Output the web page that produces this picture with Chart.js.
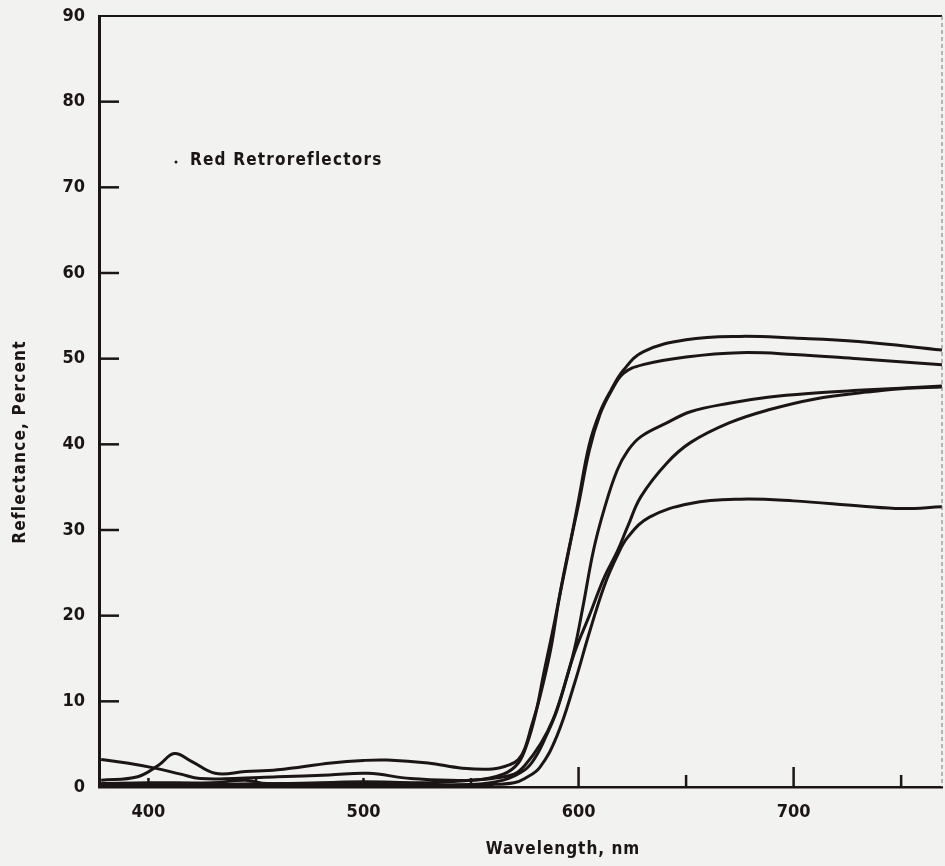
<!DOCTYPE html>
<html lang="en">
<head>
    <meta charset="UTF-8">
    <title>Red Retroreflectors</title>
    <script src="https://cdn.jsdelivr.net/npm/chart.js"></script>
    <style>
        body { margin: 0; background: #f2f2f0; }
        #box { width: 945px; height: 866px; }
    </style>
</head>
<body>
    <div id="box"><canvas id="grafico"></canvas></div>
<script>
    // wavelength (nm) and reflectance (%), one pair per curve
    const wlA = [378, 395, 405, 412, 420, 431, 445, 460, 485, 500, 511, 530, 546, 560, 568, 572, 575, 578, 582, 587, 591, 595, 600, 605, 610, 615, 621, 630, 650, 675, 700, 730, 769];
    const refA = [0.8, 1.2, 2.6, 3.9, 3.0, 1.6, 1.8, 2.0, 2.8, 3.1, 3.15, 2.8, 2.2, 2.1, 2.6, 3.2, 4.5, 7, 10.5, 16, 22, 27, 33.5, 40, 43.8, 46.3, 48.7, 50.8, 52.2, 52.6, 52.4, 52.0, 51.0];

    const wlB = [378, 390, 403, 415, 424, 440, 460, 484, 502, 522, 551, 565, 572, 576, 580, 584, 589, 594, 600, 605, 610, 615, 621, 630, 650, 675, 700, 730, 769];
    const refB = [3.2, 2.8, 2.2, 1.5, 1.0, 1.0, 1.2, 1.4, 1.6, 1.0, 0.8, 1.5, 2.8, 5, 8.5, 13.5, 19.5, 26, 33, 39.3, 43.5, 46.1, 48.3, 49.3, 50.2, 50.7, 50.5, 50.0, 49.3];

    const wlC = [378, 400, 430, 445, 455, 480, 500, 530, 550, 560, 570, 575, 582.5, 588, 593, 598, 602, 607, 612, 618, 623, 629, 641, 652, 670, 688, 710, 730, 769];
    const refC = [0.4, 0.5, 0.5, 0.8, 0.4, 0.5, 0.6, 0.5, 0.8, 1.0, 1.5, 2.5, 5.1, 7.8, 11.5, 16, 21, 27.7, 32.5, 37, 39.3, 40.9, 42.5, 43.8, 44.8, 45.5, 46.0, 46.3, 46.8];

    const wlD = [378, 420, 470, 520, 550, 565, 575, 580, 585, 590, 598, 605, 612, 618, 623, 629, 641, 652, 670, 688, 710, 734, 750, 769];
    const refD = [0.3, 0.3, 0.4, 0.3, 0.3, 0.8, 2.0, 3.5, 6, 9, 15.6, 20, 24.5, 27.5, 30.5, 33.9, 37.8, 40.2, 42.5, 44, 45.3, 46.1, 46.5, 46.7];

    const wlE = [378, 420, 470, 520, 560, 570, 575, 582, 590, 598, 605, 612, 618, 623, 633, 652, 675, 700, 731, 750, 769];
    const refE = [0.2, 0.2, 0.3, 0.2, 0.3, 0.5, 1.0, 2.3, 6, 12, 18, 23.5, 27, 29.2, 31.5, 33.1, 33.6, 33.4, 32.8, 32.5, 32.7];

    const xTicks = [400, 500, 600, 700];
    const xMarks = [400, 450, 500, 550, 600, 650, 700, 750];
    const yTicks = [0, 10, 20, 30, 40, 50, 60, 70, 80, 90];

    const familia = '"DejaVu Sans Condensed", "DejaVu Sans", sans-serif';

    function pares(xs, ys) {
        let out = [];
        for (let i = 0; i < xs.length; i++) out.push({ x: xs[i], y: ys[i] });
        return out;
    }

    function serie(xs, ys) {
        return {
            data: pares(xs, ys),
            borderColor: '#1b1515',
            borderWidth: 3,
            pointRadius: 0,
            fill: false,
            tension: 0.4
        };
    }

    // inward tick marks, frame and free text like the original print
    const moldura = {
        id: 'moldura',
        afterDraw(chart) {
            const ctx = chart.ctx;
            const a = chart.chartArea;
            const x = chart.scales.x;
            const y = chart.scales.y;
            ctx.save();
            ctx.strokeStyle = '#1b1515';
            ctx.lineCap = 'butt';

            // top border
            ctx.lineWidth = 2;
            ctx.beginPath();
            ctx.moveTo(a.left, a.top);
            ctx.lineTo(a.right, a.top);
            ctx.stroke();

            // right border (faint, dashed in the scan)
            ctx.strokeStyle = '#777';
            ctx.lineWidth = 1;
            ctx.setLineDash([4, 3]);
            ctx.beginPath();
            ctx.moveTo(a.right, a.top);
            ctx.lineTo(a.right, a.bottom);
            ctx.stroke();
            ctx.setLineDash([]);

            ctx.strokeStyle = '#1b1515';
            ctx.lineWidth = 2.5;
            yTicks.forEach(function (v) {
                if (v === 0 || v === 90) return;
                const py = y.getPixelForValue(v);
                ctx.beginPath();
                ctx.moveTo(a.left, py);
                ctx.lineTo(a.left + 20, py);
                ctx.stroke();
            });
            xMarks.forEach(function (v) {
                const px = x.getPixelForValue(v);
                let len = (v % 100 === 0) ? 20 : 12;
                if (v < 600) len = 9;
                ctx.beginPath();
                ctx.moveTo(px, a.bottom);
                ctx.lineTo(px, a.bottom - len);
                ctx.stroke();
            });

            ctx.fillStyle = '#1b1515';
            ctx.textBaseline = 'middle';
            ctx.textAlign = 'left';
            ctx.font = 'bold 17px ' + familia;
            ctx.letterSpacing = '1.2px';
            ctx.fillText('Red Retroreflectors', 190, 161);
            ctx.beginPath();
            ctx.arc(176, 162, 1.5, 0, Math.PI * 2);
            ctx.fill();

            ctx.font = 'bold 17px ' + familia;
            ctx.letterSpacing = '1px';
            ctx.textAlign = 'center';
            ctx.fillText('Wavelength, nm', 563, 850);
            ctx.translate(21, 442);
            ctx.rotate(-Math.PI / 2);
            ctx.letterSpacing = '1.2px';
            ctx.fillText('Reflectance, Percent', 0, 0);
            ctx.restore();
        }
    };

    const config = {
        type: 'line',
        data: {
            datasets: [
                serie(wlA, refA),
                serie(wlB, refB),
                serie(wlC, refC),
                serie(wlD, refD),
                serie(wlE, refE)
            ]
        },
        options: {
            responsive: true,
            maintainAspectRatio: false,
            animation: false,
            layout: { padding: { top: 16, right: 3, left: 0, bottom: 0 } },
            plugins: { legend: { display: false }, tooltip: { enabled: false } },
            scales: {
                x: {
                    type: 'linear',
                    min: 377,
                    max: 769,
                    afterBuildTicks: function (s) { s.ticks = xTicks.map(function (v) { return { value: v }; }); },
                    afterFit: function (s) { s.height = 79; s.paddingLeft = 0; s.paddingRight = 0; },
                    grid: { display: false, drawTicks: false },
                    border: { display: true, color: '#1b1515', width: 2.5 },
                    ticks: { color: '#1b1515', padding: 15, maxRotation: 0, font: { family: familia, size: 18, weight: 'bold' } }
                },
                y: {
                    min: 0,
                    max: 90,
                    afterBuildTicks: function (s) { s.ticks = yTicks.map(function (v) { return { value: v }; }); },
                    afterFit: function (s) { s.width = 99; s.paddingTop = 0; s.paddingBottom = 0; },
                    grid: { display: false, drawTicks: false },
                    border: { display: true, color: '#1b1515', width: 3 },
                    ticks: { color: '#1b1515', padding: 14, font: { family: familia, size: 18, weight: 'bold' } }
                }
            }
        },
        plugins: [moldura]
    };

    let grafico = new Chart(document.getElementById('grafico'), config);
</script>
</body>
</html>
